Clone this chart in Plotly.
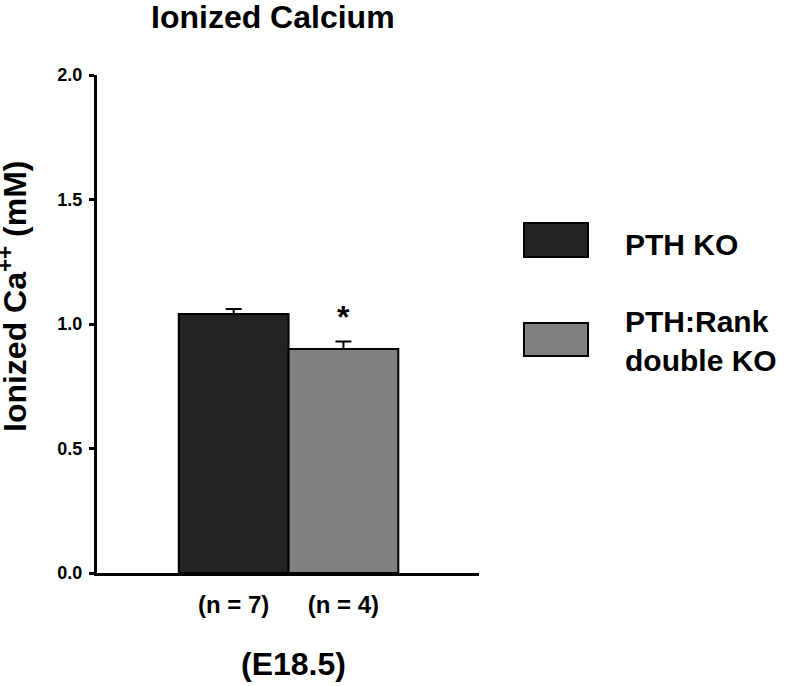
import plotly.graph_objects as go

# ---- data ----
groups = ["PTH KO", "PTH:Rank double KO"]
legend_labels = ["PTH KO", "PTH:Rank<br>double KO"]
n_labels = ["(n = 7)", "(n = 4)"]
mean_ca = [1.04, 0.90]
sem_ca = [0.02, 0.03]
bar_colors = ["#232323", "#808080"]
y_ticks = [0.0, 0.5, 1.0, 1.5, 2.0]
x_label = "(E18.5)"
title_text = "Ionized Calcium"
y_title = "Ionized Ca<sup>++</sup> (mM)"

W, H = 788, 686
L, R, T, B = 97, 479, 75, 573  # plot area in pixels

def px(x):
    return (x - L) / (R - L)

def py(y):
    return (B - y) / (B - T)

FONT = "Liberation Sans, Arial, Helvetica, sans-serif"

fig = go.Figure()
for i, g in enumerate(groups):
    fig.add_trace(go.Bar(
        x=[i], y=[mean_ca[i]], width=1.0, name=g,
        marker=dict(color=bar_colors[i], line=dict(color="black", width=2)),
        error_y=dict(type="data", array=[sem_ca[i]], arrayminus=[0], symmetric=False,
                     color="black", thickness=2, width=8),
        showlegend=False, hoverinfo="skip",
    ))

fig.update_layout(
    width=W, height=H,
    paper_bgcolor="white", plot_bgcolor="white",
    margin=dict(l=L, r=W - R, t=T, b=H - B, pad=0),
    bargap=0,
    font=dict(family=FONT, color="black"),
)

fig.update_xaxes(
    range=[-1.245, 2.235], showgrid=False, zeroline=False,
    showline=True, linecolor="black", linewidth=3,
    tickvals=[0, 1], ticktext=n_labels, ticks="",
    tickfont=dict(family=FONT, size=24, weight="bold", color="black"),
    ticklabelstandoff=8,
)
fig.update_yaxes(
    range=[0, 2.0], showgrid=False, zeroline=False,
    showline=True, linecolor="black", linewidth=3,
    tickvals=y_ticks, tickformat=".1f", ticks="outside", ticklen=5, tickwidth=3,
    tickcolor="black",
    tickfont=dict(family=FONT, size=18, weight="bold", color="black"),
    ticklabelstandoff=3,
)

ann = []
# title
ann.append(dict(text=title_text, xref="paper", yref="paper", x=px(273), y=py(17),
                xanchor="center", yanchor="middle", showarrow=False,
                font=dict(family=FONT, size=32, weight="bold", color="black")))
# y title
ann.append(dict(text=y_title, xref="paper", yref="paper", x=px(13), y=py(297),
                xanchor="center", yanchor="middle", textangle=-90, showarrow=False,
                font=dict(family=FONT, size=32, weight="bold", color="black")))
# x label
ann.append(dict(text=x_label, xref="paper", yref="paper", x=px(293), y=py(664),
                xanchor="center", yanchor="middle", showarrow=False,
                font=dict(family=FONT, size=32, weight="bold", color="black")))
# significance star
ann.append(dict(text="*", xref="x", yref="y", x=1, y=mean_ca[1] + sem_ca[1] + 0.10,
                xanchor="center", yanchor="middle", showarrow=False,
                font=dict(family=FONT, size=32, weight="bold", color="black")))

# legend (boxes + labels)
shapes = []
box_y = [(223, 257), (323, 356)]
text_y = [244, 341]
for i in range(len(groups)):
    y0, y1 = box_y[i]
    shapes.append(dict(type="rect", xref="paper", yref="paper",
                       x0=px(524), x1=px(588), y0=py(y1), y1=py(y0),
                       fillcolor=bar_colors[i], line=dict(color="black", width=2)))
    ann.append(dict(text=legend_labels[i], xref="paper", yref="paper",
                    x=px(623), y=py(text_y[i]), xanchor="left", yanchor="middle",
                    align="left", showarrow=False,
                    font=dict(family=FONT, size=30, weight="bold", color="black")))

fig.update_layout(annotations=ann, shapes=shapes)
fig.write_html("out.html",
               config={"displayModeBar": False, "staticPlot": True},
               post_script="document.body.style.margin='0';document.body.style.overflow='hidden';")
